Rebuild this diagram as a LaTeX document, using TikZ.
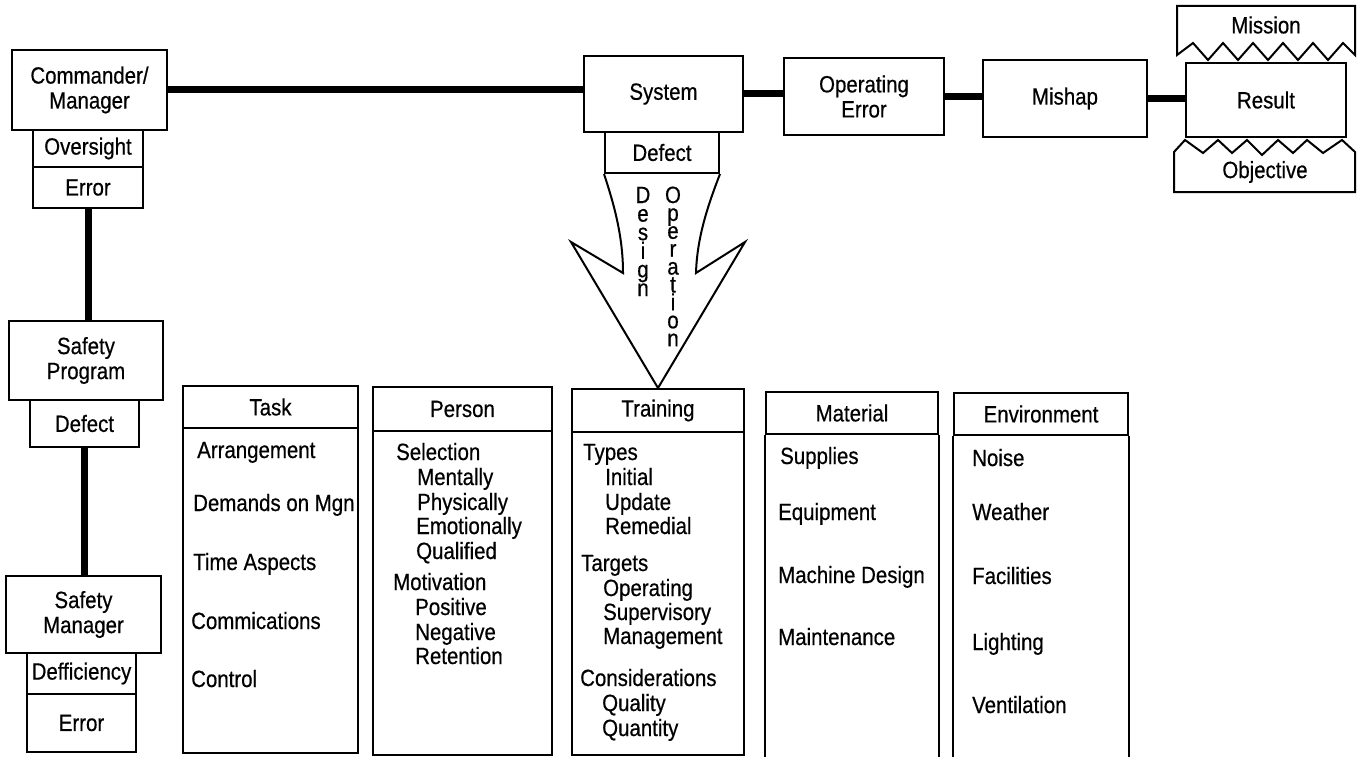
\documentclass[tikz,border=0pt]{standalone}
\usepackage{fontspec}
\setmainfont{Liberation Sans}[FakeStretch=0.87,FakeBold=0.5]
\newcommand\lbl{\fontsize{23.5}{25}\selectfont}
\newcommand\bx[6]{\node[box,minimum width={(#4-#2)*1pt},minimum height={(#5-#3)*1pt}] (#1) at ({(#2+#4)/2},{(#3+#5)/2}) {#6};}
\begin{document}
\begin{tikzpicture}[x=1pt,y=-1pt,
  box/.style={draw,line width=2pt,fill=white,inner sep=0pt,align=center,font=\lbl},
  conn/.style={line width=7pt},
  outline/.style={draw,line width=2pt,line join=miter},
  item/.style={anchor=base west,inner sep=0pt,font=\lbl},
  letter/.style={anchor=base,inner sep=0pt,font=\lbl},
]
\useasboundingbox (0,0) rectangle (1360,757);
\fill[white] (0,0) rectangle (1360,757);

% left chain
\bx{cmd}{12}{50}{167}{130}{Commander/\\Manager}
\bx{ovs}{33}{130}{143}{167}{Oversight}
\bx{err1}{33}{167}{143}{208}{Error}
\bx{sp}{9}{321}{163}{400}{Safety\\Program}
\bx{def2}{30}{400}{139}{447}{Defect}
\bx{sm}{6}{576}{161}{653}{Safety\\Manager}
\bx{dfc}{27}{653}{136}{694}{Defficiency}
\bx{err2}{27}{694}{136}{752}{Error}

% top chain
\bx{sys}{584}{56}{743}{132}{System}
\bx{def1}{605}{132}{719}{173}{Defect}
\bx{operr}{784}{58}{944}{135}{Operating\\Error}
\bx{mishap}{983}{60}{1147}{137}{Mishap}

% mission / objective
\draw[outline,fill=white] (1177,55) -- (1177,6) -- (1355,6) -- (1355,55) -- (1343,43) -- (1328,60) -- (1313,43) -- (1298,60) -- (1283,43) -- (1268,60) -- (1253,43) -- (1238,60) -- (1223,43) -- (1208,60) -- (1193,43) -- cycle;
\node[inner sep=0pt,font=\lbl] (mission) at (1266,25) {Mission};
\draw[outline,fill=white] (1174,192) -- (1174,152) -- (1185,140) -- (1203,153) -- (1218,140) -- (1232,153) -- (1247,140) -- (1262,155) -- (1278,140) -- (1293,153) -- (1307,140) -- (1323,153) -- (1342,140) -- (1355,152) -- (1355,192) -- cycle;
\node[inner sep=0pt,font=\lbl] (objective) at (1265,172) {Objective};
\bx{result}{1186}{63}{1346}{137}{Result}

% connectors
\draw[conn] (cmd.east) -- (cmd.east -| sys.west);
\draw[conn] (sys.east) -- (sys.east -| operr.west);
\draw[conn] (operr.east) -- (operr.east -| mishap.west);
\draw[conn] (mishap.east) -- (mishap.east -| result.west);
\draw[conn] (err1.south) -- (err1.south |- sp.north);
\draw[conn] (def2.south) -- (def2.south |- sm.north);

% columns
\bx{taskH}{183}{386}{358}{428}{Task}
\bx{taskB}{183}{428}{358}{753}{}
\bx{persH}{373}{387}{552}{431}{Person}
\bx{persB}{373}{431}{552}{755}{}
\bx{trainH}{572}{389}{744}{432}{Training}
\bx{trainB}{572}{432}{744}{755}{}
\bx{matH}{766}{392}{938}{434}{Material}
\draw[line width=2pt] (matH.south west) -- (matH.south west |- 0,757);
\draw[line width=2pt] (matH.south east) -- (matH.south east |- 0,757);
\bx{envH}{954}{393}{1128}{435}{Environment}
\draw[line width=2pt] (envH.south west) -- (envH.south west |- 0,757);
\draw[line width=2pt] (envH.south east) -- (envH.south east |- 0,757);

% arrow
\draw[outline,fill=white] (def1.south west) .. controls (616,210) and (623,240) .. (623,273) -- (571,242) -- (trainH.north) -- (745,242) -- (696,273) .. controls (697,240) and (706,210) .. (def1.south east);
\foreach \c [count=\i from 0] in {D,e,s,i,g,n}
  \node[letter] (design\i) at (643,{203+18.6*\i}) {\c};
\foreach \c [count=\i from 0] in {O,p,e,r,a,t,i,o,n}
  \node[letter] (oper\i) at (673,{203+17.9*\i}) {\c};

% task items
\node[item] (t1) at (197,458) {Arrangement};
\node[item] (t2) at (193,511) {Demands on Mgn};
\node[item] (t3) at (193,570) {Time Aspects};
\node[item] (t4) at (191,629) {Commications};
\node[item] (t5) at (191,687) {Control};

% person items
\node[item] (p1) at (396,460) {Selection};
\node[item] (p2) at (417,485) {Mentally};
\node[item] (p3) at (417,510) {Physically};
\node[item] (p4) at (416,534) {Emotionally};
\node[item] (p5) at (416,559) {Qualified};
\node[item] (p6) at (393,590) {Motivation};
\node[item] (p7) at (415,615) {Positive};
\node[item] (p8) at (415,640) {Negative};
\node[item] (p9) at (415,664) {Retention};

% training items
\node[item] (r1) at (583,460) {Types};
\node[item] (r2) at (605,485) {Initial};
\node[item] (r3) at (605,510) {Update};
\node[item] (r4) at (605,534) {Remedial};
\node[item] (r5) at (581,571) {Targets};
\node[item] (r6) at (603,596) {Operating};
\node[item] (r7) at (603,620) {Supervisory};
\node[item] (r8) at (603,644) {Management};
\node[item] (r9) at (580,686) {Considerations};
\node[item] (r10) at (602,711) {Quality};
\node[item] (r11) at (602,736) {Quantity};

% material items
\node[item] (m1) at (780,464) {Supplies};
\node[item] (m2) at (778,520) {Equipment};
\node[item] (m3) at (778,583) {Machine Design};
\node[item] (m4) at (778,645) {Maintenance};

% environment items
\node[item] (e1) at (972,466) {Noise};
\node[item] (e2) at (972,520) {Weather};
\node[item] (e3) at (972,584) {Facilities};
\node[item] (e4) at (972,650) {Lighting};
\node[item] (e5) at (972,713) {Ventilation};
\end{tikzpicture}
\end{document}
